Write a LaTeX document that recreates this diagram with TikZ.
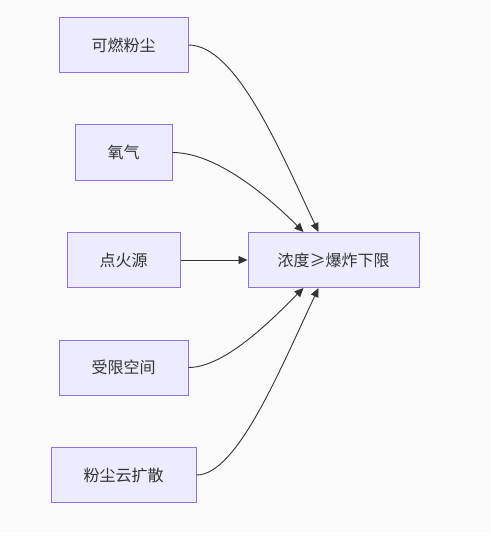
\documentclass[tikz,border=0pt]{standalone}
\usepackage{fontspec}
\newfontfamily\cjk{Noto Sans CJK SC}
\usetikzlibrary{arrows.meta, positioning}

\definecolor{bggray}{HTML}{FAFAFA}
\definecolor{boxfill}{HTML}{ECECFF}
\definecolor{boxline}{HTML}{9370DB}
\definecolor{inkgray}{HTML}{333333}

\begin{document}
\begin{tikzpicture}[
        box/.style={rectangle, draw=boxline, fill=boxfill, line width=1pt,
            minimum height=55pt, inner xsep=32.5pt, text=inkgray,
            font=\cjk\fontsize{16}{19}\selectfont},
        link/.style={draw=inkgray, line width=0.9pt, -{Triangle[length=9pt, width=8pt]}}
    ]
        % 背景
        \fill[white] (0,0) rectangle (490pt,-540pt);
        \fill[bggray] (0,0) rectangle (490pt,-532pt);
        \useasboundingbox (0,0) rectangle (490pt,-540pt);

        % 左侧条件
        \node[box] (fuel) at (123.5pt,-45pt) {可燃粉尘};
        \node[box, below=51.5pt of fuel] (oxygen) {氧气};
        \node[box, below=51.5pt of oxygen] (ignition) {点火源};
        \node[box, below=51.5pt of ignition] (confined) {受限空间};
        \node[box, below=51.5pt of confined] (cloud) {粉尘云扩散};

        % 右侧结果
        \node[box, inner xsep=29.5pt, right=67pt of ignition] (limit) {浓度≥爆炸下限};

        % 连线
        \draw[link] (fuel.east) .. controls +(47pt,0pt) and +(-40pt,85pt) .. ([xshift=-15pt]limit.north);
        \draw[link] (oxygen.east) .. controls +(44pt,0pt) and +(-35pt,35pt) .. ([xshift=-30pt]limit.north);
        \draw[link] (ignition.east) -- (limit.west);
        \draw[link] (confined.east) .. controls +(37pt,0pt) and +(-30pt,-30pt) .. ([xshift=-30pt]limit.south);
        \draw[link] (cloud.east) .. controls +(40pt,0pt) and +(-40pt,-85pt) .. ([xshift=-15pt]limit.south);
    \end{tikzpicture}
\end{document}
